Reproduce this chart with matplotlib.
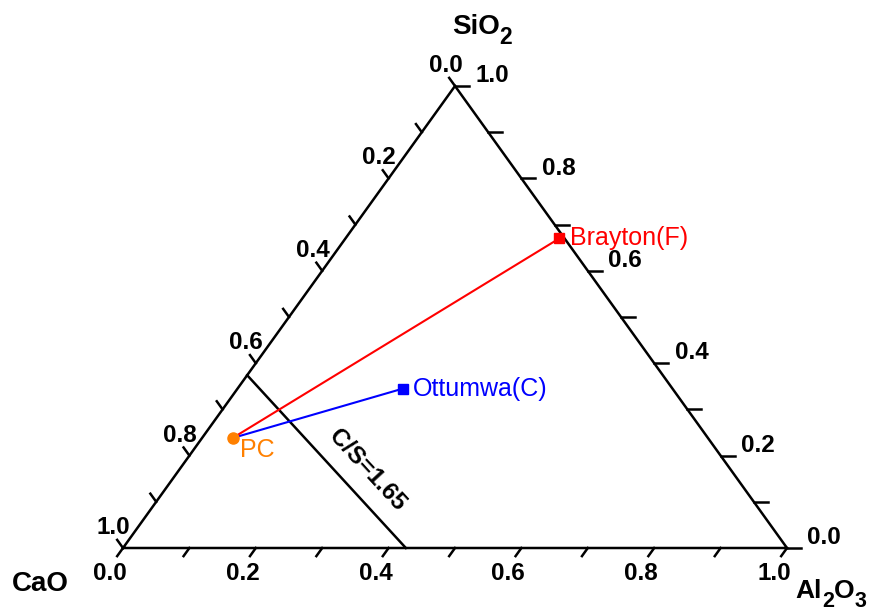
import matplotlib
matplotlib.use('Agg')
import matplotlib.pyplot as plt
import numpy as np

plt.rcParams['font.family'] = ['Liberation Sans', 'DejaVu Sans']

# compositions as fractions of CaO, Al2O3, SiO2
sample_names = ['PC', 'Ottumwa(C)', 'Brayton(F)']
sample_cao = [0.716, 0.406, 0.008]
sample_al2o3 = [0.046, 0.249, 0.322]
sample_sio2 = [0.238, 0.345, 0.670]
sample_colors = ['#FF8000', '#0000FF', '#FF0000']
sample_markers = ['o', 's', 's']

# end points of the C/S = 1.65 line
cs_cao = [0.626, 0.574]
cs_al2o3 = [0.0, 0.426]
cs_sio2 = [0.374, 0.0]
cs_label = 'C/S=1.65'

tick_values = [0.0, 0.1, 0.2, 0.3, 0.4, 0.5, 0.6, 0.7, 0.8, 0.9, 1.0]
label_values = [0.0, 0.2, 0.4, 0.6, 0.8, 1.0]

H = 462 / 664  # height of the triangle (base = 1)
PX = 1 / 664   # one pixel in data units
LW = 1.8


# convert ternary fractions to cartesian x, y
def tern(cao, al2o3, sio2):
    cao, al2o3, sio2 = (np.asarray(v, dtype=float) for v in (cao, al2o3, sio2))
    tot = cao + al2o3 + sio2
    return (al2o3 + 0.5 * sio2) / tot, H * sio2 / tot


# draw a bold chemical formula; pieces alternate between normal and subscript text
def formula(ax, xy, offset, pieces, size=20, sub_size=16.5):
    main = ax.annotate(pieces[0], xy=xy, xytext=offset, textcoords='offset points',
                       fontsize=size, fontweight='bold', ha='left', va='baseline')
    last = main
    for i, p in enumerate(pieces[1:], start=1):
        sub = i % 2 == 1
        last = ax.annotate(p, xy=(1, 0), xycoords=(last, main),
                           xytext=(0, -6.5 if sub else 0), textcoords='offset points',
                           fontsize=sub_size if sub else size, fontweight='bold',
                           ha='left', va='bottom')


fig = plt.figure(figsize=(8.69, 6.14), dpi=100)
ax = fig.add_axes([0, 0, 1, 1])
ax.set_xlim(-123 * PX, 746 * PX)
ax.set_ylim(-66 * PX, 548 * PX)
ax.axis('off')

# triangle frame
fx, fy = tern([1, 0, 0, 1], [0, 1, 0, 0], [0, 0, 1, 0])
ax.plot(fx, fy, color='black', lw=LW, solid_joinstyle='miter')

# ticks and tick labels for the three edges
tick_len = 10 * PX
d_bot = np.array([-0.5, -H]) / np.hypot(0.5, H)
d_left = np.array([-0.5, H]) / np.hypot(0.5, H)
d_right = np.array([1.0, 0.0])
for v in tick_values:
    bx, by = tern(1 - v, v, 0)
    ax.plot([bx, bx + d_bot[0] * tick_len], [by, by + d_bot[1] * tick_len], color='black', lw=LW)
    lx, ly = tern(v, 0, 1 - v)
    ax.plot([lx, lx + d_left[0] * tick_len], [ly, ly + d_left[1] * tick_len], color='black', lw=LW)
    rx, ry = tern(0, 1 - v, v)
    ax.plot([rx, rx + d_right[0] * 14 * PX], [ry, ry], color='black', lw=LW)

for v in label_values:
    kw = dict(textcoords='offset points', fontsize=17.5, fontweight='bold', ha='center', va='center')
    ax.annotate('{0:.1f}'.format(v), xy=tern(1 - v, v, 0), xytext=(-9.4, -18.7), **kw)
    ax.annotate('{0:.1f}'.format(v), xy=tern(v, 0, 1 - v), xytext=(-6.8, 14.8), **kw)
    ax.annotate('{0:.1f}'.format(v), xy=tern(0, 1 - v, v), xytext=(26.8, 7.4), **kw)

# axis titles at the vertices
formula(ax, tern(0, 0, 1), (-2.2, 37.4), ['SiO', '2'])
formula(ax, tern(1, 0, 0), (-80, -31), ['CaO'])
formula(ax, tern(0, 1, 0), (6.2, -36), ['Al', '2', 'O', '3'], size=19, sub_size=15.5)

# C/S = 1.65 line
cx, cy = tern(cs_cao, cs_al2o3, cs_sio2)
ax.plot(cx, cy, color='black', lw=LW)
ang = np.degrees(np.arctan2(cy[1] - cy[0], cx[1] - cx[0]))
ax.annotate(cs_label, xy=(cx.mean(), cy.mean()), xytext=(29, -6.1), textcoords='offset points',
            fontsize=17.5, fontweight='bold', rotation=ang, rotation_mode='anchor',
            ha='center', va='center')

# samples: lines from PC to each fly ash, then markers and names
sx, sy = tern(sample_cao, sample_al2o3, sample_sio2)
for i in range(1, len(sample_names)):
    ax.plot([sx[0], sx[i]], [sy[0], sy[i]], color=sample_colors[i], lw=1.5)
label_off = [(5, -8.6), (7.5, 0), (7.5, 0)]
for i, name in enumerate(sample_names):
    ax.plot(sx[i], sy[i], sample_markers[i], color=sample_colors[i], ms=7 if sample_markers[i] == 's' else 8)
    ax.annotate(name, xy=(sx[i], sy[i]), xytext=label_off[i], textcoords='offset points',
                fontsize=18, color=sample_colors[i], ha='left', va='center')

plt.savefig('out.png', dpi=100)
